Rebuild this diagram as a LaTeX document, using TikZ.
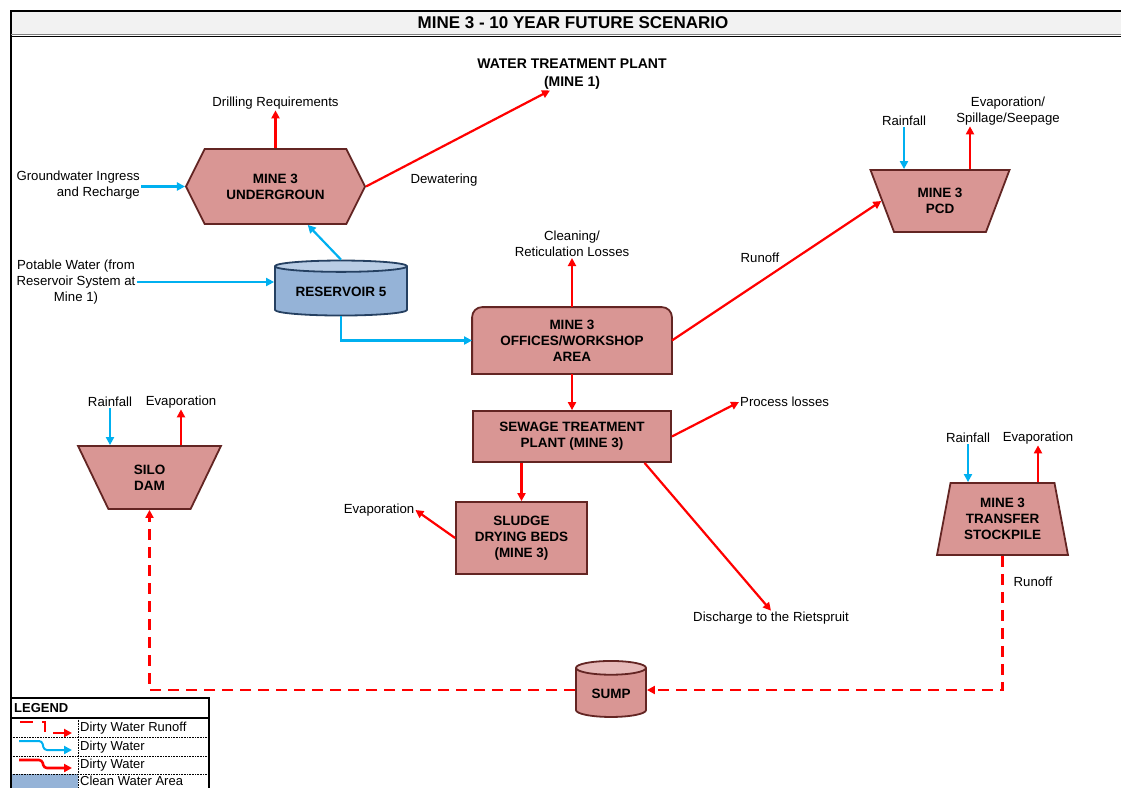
\documentclass[tikz,border=0pt]{standalone}
\usepackage{fontspec}
\setmainfont{Liberation Sans}
\usetikzlibrary{arrows.meta,shapes.geometric,shapes.symbols,backgrounds}
\definecolor{unitc}{RGB}{217,150,148}
\definecolor{unitline}{RGB}{99,37,35}
\definecolor{sumptop}{RGB}{230,185,184}
\definecolor{resc}{RGB}{149,179,215}
\definecolor{restop}{RGB}{185,205,229}
\definecolor{resline}{RGB}{37,64,97}
\definecolor{cleanc}{RGB}{0,176,240}
\definecolor{dirtyc}{RGB}{255,0,0}
\definecolor{titlec}{RGB}{242,242,242}
\tikzset{
  box/.style={draw=unitline, line width=1.8pt, fill=unitc, align=center, inner sep=2pt, font=\fontsize{13.5}{16}\selectfont\bfseries},
  plant/.style={box, rectangle},
  hexa/.style={box, signal, signal to=east and west, signal pointer angle=127},
  dam/.style={box, trapezium, trapezium stretches=true},
  tank/.style 2 args={box, fill=none, cylinder, shape border rotate=90, cylinder body fill=#1, cylinder end fill=#2, cylinder uses custom fill},
  lbl/.style={align=center, inner sep=1pt, font=\fontsize{13.2}{16}\selectfont},
  dirty/.style={-{Triangle[length=8pt,width=8pt]}, line width=2.2pt, dirtyc},
  clean/.style={dirty, cleanc},
  runoff/.style={dirty, dash pattern=on 11pt off 7pt},
  legrow/.style={densely dotted, line width=0.6pt}
}
\begin{document}
\begin{tikzpicture}[x=1pt, y=-1pt]
  \useasboundingbox (0,0) rectangle (1121,787);

  \fill[titlec] (11,11) rectangle (1130,35);
  \draw[line width=2pt] (1130,11) -- (11,11) -- (11,800);
  \draw[gray, line width=1pt] (11,34) -- (1130,34);
  \draw[line width=1.2pt] (11,36.5) -- (1130,36.5);
  \node[font=\fontsize{17}{18}\selectfont\bfseries] (title) at (573,23) {MINE 3 - 10 YEAR FUTURE SCENARIO};

  % units
  \node[hexa, minimum width=179pt, minimum height=75pt] (hex) at (275.5,186.5) {MINE 3\\UNDERGROUN};
  \node[tank={resc}{restop}, aspect=0.12, draw=resline, minimum width=132pt, minimum height=55pt] (res) at (341,292) {RESERVOIR 5};
  \node[plant, draw=none, fill=none, minimum width=198pt, minimum height=65pt] (off) at (572,340.5) {MINE 3\\OFFICES/WORKSHOP\\AREA};
  \node[plant, minimum width=198pt, minimum height=51pt] (sew) at (572,436.5) {SEWAGE TREATMENT\\PLANT (MINE 3)};
  \node[plant, minimum width=131pt, minimum height=72pt] (slu) at (521.5,538) {SLUDGE\\DRYING BEDS\\(MINE 3)};
  \node[dam, shape border rotate=180, trapezium angle=67, minimum width=140pt, minimum height=62pt] (pcd) at (940,201) {MINE 3\\PCD};
  \node[dam, shape border rotate=180, trapezium angle=66, minimum width=143pt, minimum height=63pt] (silo) at (149.5,477.5) {SILO\\DAM};
  \node[dam, trapezium angle=77, minimum width=131pt, minimum height=72pt] (stock) at (1002.5,519) {MINE 3\\TRANSFER\\STOCKPILE};
  \node[tank={unitc}{sumptop}, aspect=0.32, minimum width=70pt, minimum height=56pt] (sump) at (611,694) {SUMP};

  \begin{scope}[on background layer]
    \filldraw[draw=unitline, fill=unitc, line width=1.8pt, rounded corners=10pt] (off.south west) -- (off.north west) -- (off.north east) -- (off.south east);
    \draw[draw=unitline, line width=1.8pt, line cap=rect] (off.south east) -- (off.south west);
  \end{scope}

  % labels
  \node[lbl, font=\fontsize{14}{18}\selectfont\bfseries] (wtp) at (572,74) {WATER TREATMENT PLANT\\(MINE 1)};
  \node[lbl] (drill) at (275.5,103) {Drilling Requirements};
  \node[lbl, align=right, anchor=east] (gw) at (141,185) {Groundwater Ingress\\and Recharge};
  \node[lbl] (dew) at (444,180) {Dewatering};
  \node[lbl] (pot) at (76,282) {Potable Water (from\\Reservoir System at\\Mine 1)};
  \node[lbl] (cln) at (572,244) {Cleaning/\\Reticulation Losses};
  \node[lbl] (run1) at (760,258) {Runoff};
  \node[lbl] (rain1) at (904,121) {Rainfall};
  \node[lbl] (evap1) at (1008,111) {Evaporation/\\Spillage/Seepage};
  \node[lbl] (rain2) at (110,402) {Rainfall};
  \node[lbl] (evap2) at (181,402) {Evaporation};
  \node[lbl, anchor=west] (proc) at (739,402) {Process losses};
  \node[lbl] (evap3) at (379,510) {Evaporation};
  \node[lbl] (rain3) at (968,438) {Rainfall};
  \node[lbl] (evap4) at (1038,438) {Evaporation};
  \node[lbl] (run2) at (1033,582) {Runoff};
  \node[lbl] (dis) at (771,618) {Discharge to the Rietspruit};
  \coordinate (spill) at ([xshift=-38pt]evap1.south);

  % flows
  \draw[clean] (gw.east |- hex.west) -- (hex.west);
  \draw[dirty] (hex.north) -- (drill.south);
  \draw[dirty] (hex.east) -- ([xshift=-22pt]wtp.south);
  \draw[clean] (res.north) -- (hex.-50);
  \draw[clean] (pot.east) -- (pot.east -| res.west);
  \draw[clean] (res.south) |- (off.west);
  \draw[dirty] (off.north) -- (cln.south);
  \draw[dirty] (off.east) -- (pcd.west);
  \draw[clean] (rain1.south) -- (rain1.south |- pcd.north);
  \draw[dirty] (spill |- pcd.north) -- (spill);
  \draw[dirty] (off.south) -- (sew.north);
  \draw[dirty] (sew.east) -- (proc.west);
  \draw[dirty] (sew.south -| slu.north) -- (slu.north);
  \draw[dirty] (slu.west) -- (evap3.east);
  \draw[dirty] (sew.-20) -- (dis.north);
  \draw[clean] (rain2.south) -- (rain2.south |- silo.north);
  \draw[dirty] (evap2.south |- silo.north) -- (evap2.south);
  \draw[clean] (rain3.south) -- (rain3.south |- stock.north);
  \draw[dirty] (evap4.south |- stock.north) -- (evap4.south);
  \draw[runoff] (stock.south) |- ([yshift=4pt]sump.east);
  \draw[runoff] ([yshift=4pt]sump.west) -| (silo.south);

  % legend
  \fill[resc] (11,774) rectangle (78,800);
  \draw[line width=1.2pt] (11,698) rectangle (209,800);
  \draw[line width=1.2pt] (11,718) -- (209,718);
  \draw[legrow] (11,737) -- (209,737);
  \draw[legrow] (11,756) -- (209,756);
  \draw[legrow] (11,774) -- (209,774);
  \draw[legrow] (78,718) -- (78,800);
  \node[lbl, anchor=west, font=\fontsize{13}{14}\selectfont\bfseries] (leg) at (13,708) {LEGEND};
  \node[lbl, anchor=west, font=\fontsize{13}{14}\selectfont] (leg1) at (79,728) {Dirty Water Runoff};
  \node[lbl, anchor=west, font=\fontsize{13}{14}\selectfont] (leg2) at (79,747) {Dirty Water};
  \node[lbl, anchor=west, font=\fontsize{13}{14}\selectfont] (leg3) at (79,765) {Dirty Water};
  \node[lbl, anchor=west, font=\fontsize{13}{14}\selectfont] (leg4) at (79,781) {Clean Water Area};
  \draw[runoff, line width=2pt, dash pattern=on 13pt off 9pt] (20,722) -- (45,722) -- (45,733) -- (72,733);
  \draw[clean, line width=2pt, rounded corners=3pt] (19,741) -- (42,741) -- (44,750) -- (72,750);
  \draw[dirty, line width=2.6pt, rounded corners=3pt] (19,760) -- (42,760) -- (44,768) -- (72,768);
\end{tikzpicture}
\end{document}
